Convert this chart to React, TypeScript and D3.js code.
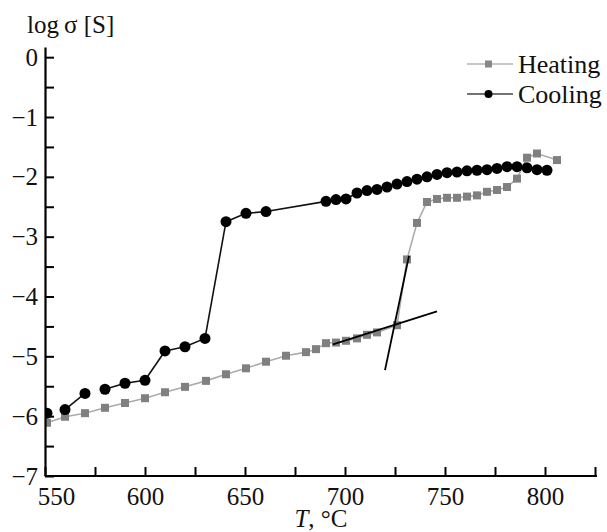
import React, { useEffect, useRef } from "react"
import * as d3 from "d3"

// heating run (gray squares)
const heatingT = [551, 560, 570, 580, 590, 600, 610, 620, 630.5, 640.5, 650.5, 660.5, 670.5, 680.5, 685.5, 690.5, 695.5, 700.5, 706, 711, 716, 726, 731, 736, 741, 746, 751, 756, 761, 766, 771, 776, 781, 786, 791, 796, 806]
const heatingLogS = [-6.11, -6.01, -5.95, -5.86, -5.78, -5.7, -5.6, -5.51, -5.41, -5.3, -5.2, -5.09, -4.99, -4.93, -4.88, -4.78, -4.77, -4.74, -4.7, -4.64, -4.6, -4.48, -3.38, -2.77, -2.42, -2.37, -2.35, -2.35, -2.33, -2.31, -2.25, -2.22, -2.17, -2.03, -1.68, -1.61, -1.72]

// cooling run (black circles)
const coolingT = [551, 560, 570, 580, 590, 600, 610, 620, 630, 640.5, 650.5, 660.5, 690.5, 695.5, 700.5, 706, 711, 716, 721, 726, 731, 736, 741, 746, 751, 756, 761, 766, 771, 776, 781, 786, 791, 796, 801]
const coolingLogS = [-5.95, -5.89, -5.62, -5.55, -5.45, -5.4, -4.91, -4.84, -4.7, -2.75, -2.61, -2.58, -2.41, -2.38, -2.37, -2.27, -2.23, -2.21, -2.17, -2.12, -2.08, -2.04, -2.0, -1.96, -1.93, -1.92, -1.9, -1.89, -1.88, -1.86, -1.83, -1.83, -1.85, -1.88, -1.89]
const coolingBreaks = [0, 2] // no segment drawn after these indices

// tangent construction lines [T, logS]
const tangentA = [[694, -4.8], [746, -4.25]]
const tangentB = [[720, -5.23], [732, -3.32]]

const xTicks = d3.range(550, 826, 25)
const yTicks = d3.range(-7, 0.01, 0.5)

const font = "'Liberation Serif', 'Times New Roman', serif"

export default function App() {
  const ref = useRef<SVGSVGElement>(null)

  useEffect(() => {
    document.body.style.margin = "0"
    const svg = d3.select(ref.current)
    svg.selectAll("*").remove()

    const x = d3.scaleLinear().domain([550, 826]).range([45, 597])
    const y = d3.scaleLinear().domain([-7, 0.17]).range([476, 47])

    svg.append("defs").append("clipPath").attr("id", "plot")
      .append("rect").attr("x", 45).attr("y", 0).attr("width", 600).attr("height", 476)

    const g = svg.append("g").attr("clip-path", "url(#plot)")

    // heating
    const hPts = heatingT.map((t, i) => [t, heatingLogS[i]])
    g.append("path")
      .attr("d", d3.line().x(d => x(d[0])).y(d => y(d[1]))(hPts as any))
      .attr("fill", "none").attr("stroke", "#ababab").attr("stroke-width", 1.6)
    g.selectAll(".sq").data(hPts).enter().append("rect")
      .attr("x", d => x(d[0]) - 4).attr("y", d => y(d[1]) - 4)
      .attr("width", 8).attr("height", 8).attr("fill", "#808080")

    // cooling
    const cPts = coolingT.map((t, i) => [t, coolingLogS[i]])
    for (let i = 0; i < cPts.length - 1; i++) {
      if (coolingBreaks.includes(i)) continue
      g.append("line")
        .attr("x1", x(cPts[i][0])).attr("y1", y(cPts[i][1]))
        .attr("x2", x(cPts[i + 1][0])).attr("y2", y(cPts[i + 1][1]))
        .attr("stroke", "#111").attr("stroke-width", 1.6)
    }
    g.selectAll(".ci").data(cPts).enter().append("circle")
      .attr("cx", d => x(d[0])).attr("cy", d => y(d[1])).attr("r", 5.5).attr("fill", "#000")

    // tangents
    ;[tangentA, tangentB].forEach(tl => {
      g.append("line")
        .attr("x1", x(tl[0][0])).attr("y1", y(tl[0][1]))
        .attr("x2", x(tl[1][0])).attr("y2", y(tl[1][1]))
        .attr("stroke", "#000").attr("stroke-width", 1.8)
    })

    // axes
    const xAxis = svg.append("g").attr("transform", "translate(0,476)")
      .call(d3.axisBottom(x).tickValues(xTicks).tickSizeInner(-9).tickSizeOuter(0)
        .tickFormat(d => ((d as number) % 50 === 0 ? String(d) : "")))
    xAxis.select(".domain").attr("d", "M45,0H597").attr("stroke-width", 2.2)
    xAxis.selectAll(".tick line").attr("stroke-width", 2)
    xAxis.selectAll(".tick text").attr("y", 11).attr("dy", "0.71em")
      .attr("font-family", font).attr("font-size", 25).attr("fill", "#111")
      .attr("dx", d => ((d as number) === 550 ? 11 : 0))

    const yAxis = svg.append("g").attr("transform", "translate(45,0)")
      .call(d3.axisLeft(y).tickValues(yTicks).tickSizeInner(-9).tickSizeOuter(0)
        .tickFormat(d => (Number.isInteger(d as number) ? ((d as number) === 0 ? "0" : "\u2212" + Math.abs(d as number)) : "")))
    yAxis.select(".domain").attr("stroke-width", 2.2)
    yAxis.selectAll(".tick line").attr("stroke-width", 2)
    yAxis.selectAll(".tick text").attr("x", -7).attr("dy", "0.32em")
      .attr("font-family", font).attr("font-size", 25).attr("fill", "#111")

    // titles
    svg.append("text").attr("x", 27).attr("y", 33)
      .attr("font-family", font).attr("font-size", 25).attr("fill", "#111")
      .text("log\u2009σ [S]")
    const xt = svg.append("text").attr("x", 321).attr("y", 527).attr("text-anchor", "middle")
      .attr("font-family", font).attr("font-size", 25).attr("fill", "#111")
    xt.append("tspan").attr("font-style", "italic").text("T")
    xt.append("tspan").text(", °C")

    // legend
    const lg = svg.append("g")
    lg.append("line").attr("x1", 467).attr("x2", 513).attr("y1", 64).attr("y2", 64)
      .attr("stroke", "#b4b4b4").attr("stroke-width", 1.6)
    lg.append("rect").attr("x", 485).attr("y", 60.5).attr("width", 7).attr("height", 7).attr("fill", "#888")
    lg.append("text").attr("x", 518).attr("y", 73).attr("font-family", font).attr("font-size", 26).attr("fill", "#111").text("Heating")
    lg.append("line").attr("x1", 467).attr("x2", 513).attr("y1", 94).attr("y2", 94)
      .attr("stroke", "#444").attr("stroke-width", 1.6)
    lg.append("circle").attr("cx", 488.5).attr("cy", 94).attr("r", 4).attr("fill", "#000")
    lg.append("text").attr("x", 518).attr("y", 103).attr("font-family", font).attr("font-size", 26).attr("fill", "#111").text("Cooling")
  }, [])

  return <svg ref={ref} width={607} height={532} style={{ display: "block", background: "#fff" }} />
}
